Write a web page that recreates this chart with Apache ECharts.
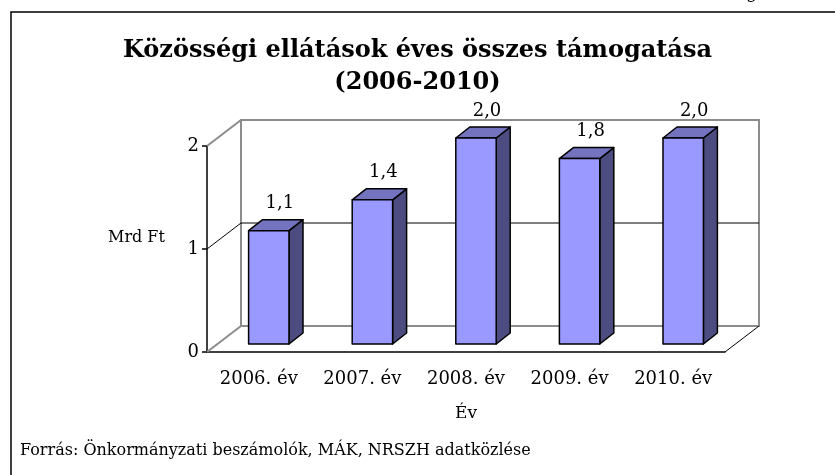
<!DOCTYPE html>
<html>
<head>
<meta charset="utf-8">
<script src="https://cdn.jsdelivr.net/npm/echarts@6/dist/echarts.min.js"></script>
<style>
  html, body { margin: 0; padding: 0; background: #fff; }
  #chart { width: 835px; height: 475px; }
</style>
</head>
<body>
<div id="chart"></div>
<script>
// 数据
const categories = ['2006. év', '2007. év', '2008. év', '2009. év', '2010. év'];
const values = [1.1, 1.4, 2.0, 1.8, 2.0];
const yMin = 0;
const yMax = 2;
const yInterval = 1;

// 3D效果的偏移量（像素）
const WALL_DX = 34;
const WALL_DY = -26;
const BAR_SHIFT_X = 10;
const BAR_SHIFT_Y = -8;
const BAR_DEPTH_X = 14;
const BAR_DEPTH_Y = -11;

const FONT = "'DejaVu Serif', serif";

// 格式化数值：1.1 -> 1,1
function fmt(v) {
  return v.toFixed(1).replace('.', ',');
}

// 背景墙和网格线
function renderWalls(params, api) {
  const cs = params.coordSys;
  const x0 = cs.x, x1 = cs.x + cs.width;
  const yTop = cs.y, yBot = cs.y + cs.height;
  const gray = { stroke: '#8c8c8c', lineWidth: 2, fill: null };
  const children = [];

  // 后墙
  children.push({
    type: 'polygon',
    shape: { points: [[x0 + WALL_DX, yTop + WALL_DY], [x1 + WALL_DX, yTop + WALL_DY],
                      [x1 + WALL_DX, yBot + WALL_DY], [x0 + WALL_DX, yBot + WALL_DY]] },
    style: gray
  });
  // 左侧墙顶边和底边
  children.push({ type: 'line', shape: { x1: x0, y1: yTop, x2: x0 + WALL_DX, y2: yTop + WALL_DY }, style: gray });
  children.push({ type: 'line', shape: { x1: x0, y1: yBot, x2: x0 + WALL_DX, y2: yBot + WALL_DY }, style: gray });
  // 地板右边
  children.push({ type: 'line', shape: { x1: x1, y1: yBot, x2: x1 + WALL_DX, y2: yBot + WALL_DY },
                  style: { stroke: '#000', lineWidth: 1 } });

  // 中间的网格线
  for (let v = yMin + yInterval; v < yMax; v += yInterval) {
    const y = api.coord([0, v])[1];
    children.push({
      type: 'polyline',
      shape: { points: [[x0, y], [x0 + WALL_DX, y + WALL_DY], [x1 + WALL_DX, y + WALL_DY]] },
      style: { stroke: '#000', lineWidth: 1, fill: null }
    });
  }
  return { type: 'group', children: children };
}

// 3D柱子
function renderBar(params, api) {
  const idx = api.value(0);
  const val = api.value(1);
  const top = api.coord([idx, val]);
  const base = api.coord([idx, 0]);
  const w = api.size([1, 0])[0] * 0.39;

  const xl = top[0] - w / 2 + BAR_SHIFT_X;
  const xr = xl + w;
  const yt = top[1] + BAR_SHIFT_Y;
  const yb = base[1] + BAR_SHIFT_Y;
  const edge = { stroke: '#000', lineWidth: 1.5, lineJoin: 'round' };

  return {
    type: 'group',
    children: [
      {
        type: 'polygon',
        shape: { points: [[xr, yt], [xr + BAR_DEPTH_X, yt + BAR_DEPTH_Y],
                          [xr + BAR_DEPTH_X, yb + BAR_DEPTH_Y], [xr, yb]] },
        style: Object.assign({ fill: '#4c4c80' }, edge)
      },
      {
        type: 'polygon',
        shape: { points: [[xl, yt], [xl + BAR_DEPTH_X, yt + BAR_DEPTH_Y],
                          [xr + BAR_DEPTH_X, yt + BAR_DEPTH_Y], [xr, yt]] },
        style: Object.assign({ fill: '#7373c0' }, edge)
      },
      {
        type: 'rect',
        shape: { x: xl, y: yt, width: w, height: yb - yt },
        style: Object.assign({ fill: '#9999ff' }, edge)
      },
      {
        type: 'text',
        style: {
          text: fmt(val),
          x: (xl + xr) / 2 + 11,
          y: yt + BAR_DEPTH_Y - 16,
          align: 'center',
          verticalAlign: 'middle',
          fontFamily: FONT,
          fontSize: 18,
          fill: '#000'
        }
      }
    ]
  };
}

const chart = echarts.init(document.getElementById('chart'));

const option = {
  backgroundColor: '#fff',
  animation: false,
  title: {
    text: 'Közösségi ellátások éves összes támogatása\n(2006-2010)',
    left: 'center',
    top: 30,
    textStyle: {
      fontFamily: FONT,
      fontSize: 24,
      fontWeight: 'bold',
      lineHeight: 32,
      color: '#000'
    }
  },
  grid: { left: 207, right: 110, top: 146, bottom: 123 },
  xAxis: {
    type: 'category',
    data: categories,
    name: 'Év',
    nameLocation: 'middle',
    nameGap: 53,
    nameTextStyle: { fontFamily: FONT, fontSize: 17, color: '#000' },
    axisLine: { lineStyle: { color: '#000', width: 1.5 } },
    axisTick: { length: 8, lineStyle: { color: '#000', width: 1.5 } },
    axisLabel: { fontFamily: FONT, fontSize: 18, color: '#000', margin: 18 }
  },
  yAxis: {
    type: 'value',
    min: yMin,
    max: yMax,
    interval: yInterval,
    axisLine: { show: true, lineStyle: { color: '#000', width: 1.5 } },
    axisTick: { show: true, length: 5, lineStyle: { color: '#000', width: 1.5 } },
    axisLabel: { fontFamily: FONT, fontSize: 18, color: '#000', margin: 8 },
    splitLine: { show: false }
  },
  graphic: [
    // 外框
    {
      type: 'rect',
      shape: { x: 11, y: 12, width: 840, height: 480 },
      style: { fill: null, stroke: '#000', lineWidth: 1.5 },
      silent: true
    },
    // 被裁掉的上一行文字
    {
      type: 'text',
      left: 746,
      top: -16,
      style: { text: 'g', fontFamily: FONT, fontSize: 18, fill: '#000' }
    },
    {
      type: 'text',
      left: 108,
      top: 230,
      style: { text: 'Mrd Ft', fontFamily: FONT, fontSize: 16, fill: '#000' }
    },
    {
      type: 'text',
      left: 20,
      top: 443,
      style: { text: 'Forrás: Önkormányzati beszámolók, MÁK, NRSZH adatközlése', fontFamily: FONT, fontSize: 16, fill: '#000' }
    }
  ],
  series: [
    {
      type: 'custom',
      name: 'walls',
      silent: true,
      z: 1,
      data: [[0, 0]],
      renderItem: renderWalls
    },
    {
      type: 'custom',
      name: 'Mrd Ft',
      z: 5,
      data: values.map((v, i) => [i, v]),
      encode: { x: 0, y: 1 },
      renderItem: renderBar
    }
  ]
};

chart.setOption(option);
</script>
</body>
</html>
